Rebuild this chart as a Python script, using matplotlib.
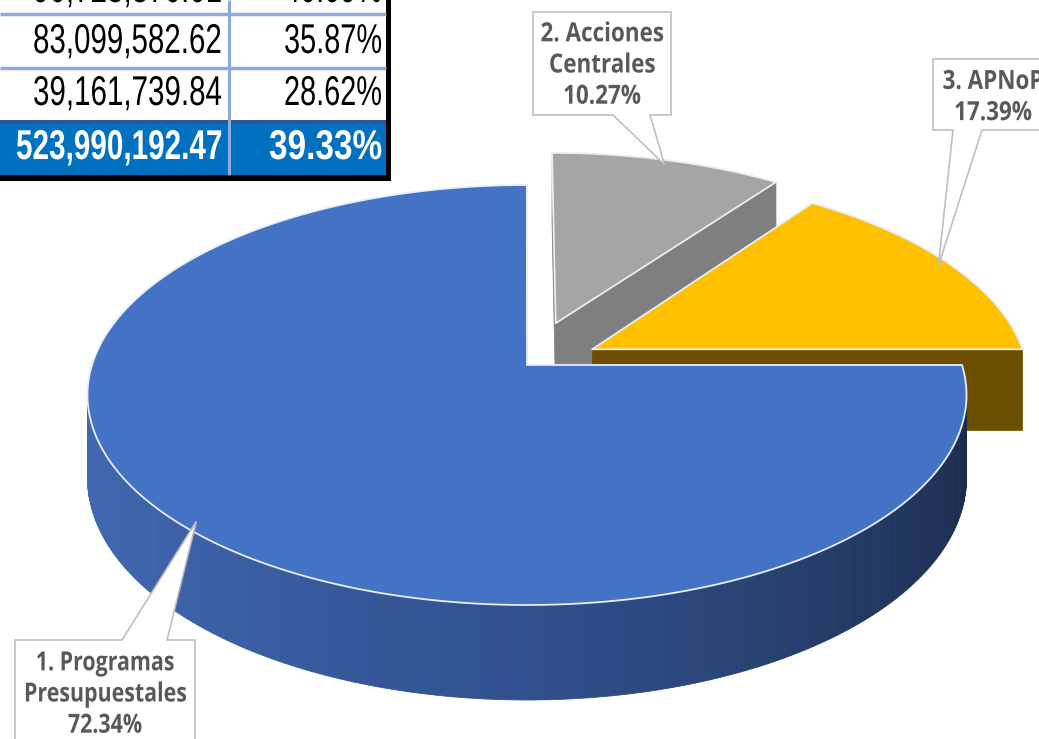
import numpy as np
import matplotlib
matplotlib.use("Agg")
import matplotlib.pyplot as plt
from matplotlib.patches import Polygon, Rectangle
from matplotlib.colors import LinearSegmentedColormap
from matplotlib.patheffects import AbstractPathEffect
from matplotlib.transforms import Affine2D

# pie data
labels = ["1. Programas\nPresupuestales", "2. Acciones\nCentrales", "3. APNoP"]
shares = [72.34, 10.27, 17.39]
explode = [0.0, 0.22, 0.17]
top_colors = ["#4472C4", "#A5A5A5", "#FFC000"]
side_colors = ["#2F4C88", "#7F7F7F", "#6B4E00"]

# partial table (top left, cropped)
table_amounts = ["90,728,870.01", "83,099,582.62", "39,161,739.84", "523,990,192.47"]
table_pcts = ["40.09%", "35.87%", "28.62%", "39.33%"]

# fake 3d projection parameters (pixels)
cx, cy = 527, 365
Rx, Ry, H, k = 435, 205.7, 81.4, 0.1429
warp = 0.169  # front slices look a bit bigger, like excel's perspective


def proj(X, Y, Z=0.0):
    f = 1.0 / (1.0 + k * Y)
    return cx + Rx * X * f, cy - (Ry * Y + H * Z) * f


def vis_angle(phi):
    return phi - warp * np.sin(phi)


class Squeeze(AbstractPathEffect):
    """draw text narrower (Arial Narrow / Calibri are not installed)"""
    def __init__(self, x0, sx):
        super().__init__()
        self.x0, self.sx = x0, sx

    def draw_path(self, renderer, gc, tpath, affine, rgbFace=None):
        t = affine + Affine2D().translate(-self.x0, 0).scale(self.sx, 1).translate(self.x0, 0)
        renderer.draw_path(gc, tpath, t, rgbFace)


def squeeze_text(t, x0, target_w, ref=None):
    r = fig.canvas.get_renderer()
    w = (ref or t).get_window_extent(r).width
    t.set_path_effects([Squeeze(ax.transData.transform((x0, 0))[0], target_w / w)])


fig = plt.figure(figsize=(10.39, 7.39), dpi=100)
ax = fig.add_axes([0, 0, 1, 1])
ax.set_xlim(0, 1039)
ax.set_ylim(739, 0)
ax.axis("off")

# slice angles (data), clockwise from 0
slices = []
a = 0.0
for s in shares:
    a1 = a - s / 100 * 2 * np.pi
    slices.append((a1, a))
    a = a1

blue_wall = LinearSegmentedColormap.from_list(
    "wall", ["#4169B3", "#3B60A6", "#30508E", "#243B66", "#1B2A4A"])
cam = np.array([0.0, -1.0 / k])
edge = "#E8EEF7"
tips = []

for i in [1, 2, 0]:
    lo, hi = vis_angle(slices[i][0]), vis_angle(slices[i][1])
    mid = (lo + hi) / 2
    o = explode[i] * np.array([np.cos(mid), np.sin(mid)])
    th = np.linspace(lo, hi, 300)
    rim = np.c_[o[0] + np.cos(th), o[1] + np.sin(th)]

    # radial cut faces
    for ang, sgn in [(lo, -1), (hi, 1)]:
        n = sgn * np.array([-np.sin(ang), np.cos(ang)])
        if np.dot(n, cam - o) > 0:
            p = o + np.array([np.cos(ang), np.sin(ang)])
            pts = [proj(o[0], o[1], 0), proj(p[0], p[1], 0),
                   proj(p[0], p[1], -1), proj(o[0], o[1], -1)]
            ax.add_patch(Polygon(pts, closed=True, facecolor=side_colors[i],
                                 edgecolor=side_colors[i], lw=0.5))

    # outer wall
    vis = (-1 - o[0] * np.cos(th) - o[1] * np.sin(th) - np.sin(th) / k) > 0
    idx = np.where(vis)[0]
    if len(idx) > 1:
        t0, t1 = th[idx[0]], th[idx[-1]]
        for j in range(len(idx) - 1):
            p0, p1 = rim[idx[j]], rim[idx[j] + 1]
            pts = [proj(p0[0], p0[1], 0), proj(p1[0], p1[1], 0),
                   proj(p1[0], p1[1], -1), proj(p0[0], p0[1], -1)]
            c = blue_wall((th[idx[j]] - t0) / (t1 - t0)) if i == 0 else side_colors[i]
            ax.add_patch(Polygon(pts, closed=True, facecolor=c, edgecolor=c, lw=0.6))

    # top face
    top = [proj(o[0], o[1], 0)] + [proj(x, y, 0) for x, y in rim]
    ax.add_patch(Polygon(top, closed=True, facecolor=top_colors[i],
                         edgecolor=edge, lw=1.3, joinstyle="round"))
    tp = o + 0.97 * np.array([np.cos(mid), np.sin(mid)])
    tips.append((i, proj(tp[0], tp[1], 0)))

# callout boxes: (x0, y0, x1, y1, base_a, base_b, side)
boxes = {
    0: (15, 640, 195, 760, 122, 167, "top"),
    1: (533, 12, 671, 115, 613, 650, "bottom"),
    2: (933, 59, 1060, 130, 953, 982, "bottom"),
}
text_pos = {0: (105, 694), 1: (602, 65), 2: (993, 97)}
label_w = {0: 162, 1: 123, 2: 123}
for i, tip in tips:
    x0, y0, x1, y1, ba, bb, side = boxes[i]
    if side == "bottom":
        pts = [(x0, y0), (x1, y0), (x1, y1), (bb, y1), tip, (ba, y1), (x0, y1)]
    else:
        pts = [(x0, y0), (ba, y0), tip, (bb, y0), (x1, y0), (x1, y1), (x0, y1)]
    ax.add_patch(Polygon(pts, closed=True, facecolor="white", edgecolor="#BFBFBF", lw=1.2))
    t = ax.text(*text_pos[i], f"{labels[i]}\n{shares[i]:.2f}%", ha="center", va="center",
                fontsize=19, fontweight="bold", color="#595959", family="Open Sans",
                linespacing=1.2)
    # squeeze factor taken from "2. Acciones" so all labels share one width scale
    ref = ax.text(0, 0, "2. Acciones" if i else "Presupuestales", fontsize=19,
                  fontweight="bold", family="Open Sans")
    squeeze_text(t, text_pos[i][0], 162 if i == 0 else 123, ref=ref)
    ref.remove()

# table fragment
ax.add_patch(Rectangle((0, 122), 386, 53, facecolor="#0070C0", edgecolor="none"))
ax.add_patch(Rectangle((0, 120), 386, 4, facecolor="#2F5597", edgecolor="none"))
for yl in [14, 68]:
    ax.plot([0, 386], [yl, yl], color="#8EA9DB", lw=2.5, solid_capstyle="butt")
ax.plot([229, 229], [0, 175], color="#8EA9DB", lw=2.2, solid_capstyle="butt")
ax.add_patch(Rectangle((386, 0), 5, 181, facecolor="black", edgecolor="none"))
ax.add_patch(Rectangle((0, 175), 391, 6, facecolor="black", edgecolor="none"))
row_y = [-9, 42, 94, 148]
amount_w = [189, 189, 189, 206]
pct_w = [98, 98, 98, 113]
for r in range(4):
    col = "white" if r == 3 else "black"
    wt = "bold" if r == 3 else "normal"
    t = ax.text(222, row_y[r], table_amounts[r], ha="right", va="center", fontsize=30,
                color=col, fontweight=wt, family="Liberation Sans")
    squeeze_text(t, 222, amount_w[r])
    t = ax.text(382, row_y[r], table_pcts[r], ha="right", va="center", fontsize=30,
                color=col, fontweight=wt, family="Liberation Sans")
    squeeze_text(t, 382, pct_w[r])

fig.savefig("out.png", dpi=100, facecolor="white")
